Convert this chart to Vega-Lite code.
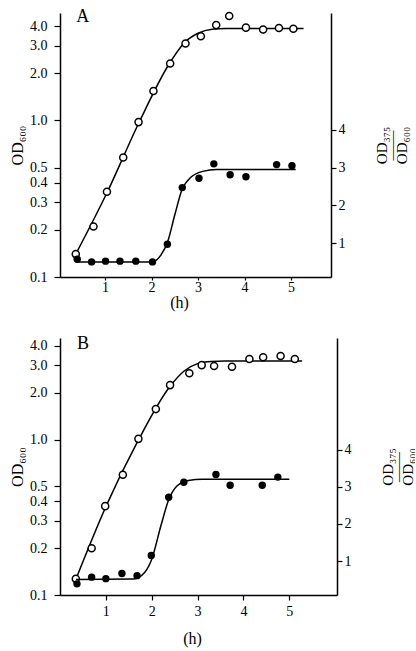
{
  "$schema": "https://vega.github.io/schema/vega-lite/v6.json",
  "background": "white",
  "padding": {"left": 9, "top": 8, "right": 0, "bottom": 5},
  "spacing": 25,
  "config": {
    "view": {"stroke": null},
    "font": "Liberation Serif",
    "axis": {
      "grid": false,
      "domainColor": "black",
      "tickColor": "black",
      "labelColor": "black",
      "titleColor": "black",
      "labelFont": "Liberation Serif",
      "titleFont": "Liberation Serif",
      "labelFontSize": 14,
      "titleFontSize": 16,
      "titleFontWeight": "normal",
      "domainWidth": 1.5,
      "tickWidth": 1.2
    }
  },
  "datasets": {
    "A_open": [
      {"h": 0.37, "v": 0.14}, {"h": 0.75, "v": 0.21}, {"h": 1.04, "v": 0.35}, {"h": 1.39, "v": 0.58},
      {"h": 1.72, "v": 0.975}, {"h": 2.04, "v": 1.54}, {"h": 2.40, "v": 2.31}, {"h": 2.73, "v": 3.10},
      {"h": 3.06, "v": 3.45}, {"h": 3.39, "v": 4.06}, {"h": 3.67, "v": 4.64}, {"h": 4.03, "v": 3.91},
      {"h": 4.40, "v": 3.81}, {"h": 4.74, "v": 3.89}, {"h": 5.05, "v": 3.85}
    ],
    "A_open_fit": [
      {"h": 0.37, "v": 0.14}, {"h": 1.04, "v": 0.345}, {"h": 1.72, "v": 0.955}, {"h": 2.4, "v": 2.35},
      {"h": 2.7, "v": 3.12}, {"h": 3.0, "v": 3.6}, {"h": 3.3, "v": 3.82}, {"h": 3.6, "v": 3.86}, {"h": 5.27, "v": 3.86}
    ],
    "A_filled": [
      {"h": 0.40, "v": 0.57}, {"h": 0.71, "v": 0.50}, {"h": 1.01, "v": 0.52}, {"h": 1.32, "v": 0.52},
      {"h": 1.66, "v": 0.52}, {"h": 2.02, "v": 0.50}, {"h": 2.34, "v": 0.97}, {"h": 2.66, "v": 2.47},
      {"h": 3.02, "v": 2.72}, {"h": 3.34, "v": 3.10}, {"h": 3.69, "v": 2.81}, {"h": 4.03, "v": 2.76},
      {"h": 4.69, "v": 3.08}, {"h": 5.02, "v": 3.05}
    ],
    "A_filled_fit": [
      {"h": 0.4, "v": 0.5}, {"h": 2.0, "v": 0.5}, {"h": 2.2, "v": 0.68}, {"h": 2.35, "v": 1.05},
      {"h": 2.5, "v": 1.75}, {"h": 2.65, "v": 2.4}, {"h": 2.85, "v": 2.75}, {"h": 3.1, "v": 2.9},
      {"h": 3.4, "v": 2.95}, {"h": 5.1, "v": 2.95}
    ],
    "A_label": [{"h": 0.38, "v": 4.55, "label": "A"}],
    "B_open": [
      {"h": 0.345, "v": 0.127}, {"h": 0.69, "v": 0.20}, {"h": 0.985, "v": 0.373}, {"h": 1.37, "v": 0.594},
      {"h": 1.71, "v": 1.01}, {"h": 2.09, "v": 1.57}, {"h": 2.40, "v": 2.24}, {"h": 2.82, "v": 2.67},
      {"h": 3.09, "v": 3.01}, {"h": 3.36, "v": 2.97}, {"h": 3.75, "v": 2.94}, {"h": 4.13, "v": 3.30},
      {"h": 4.43, "v": 3.38}, {"h": 4.81, "v": 3.45}, {"h": 5.12, "v": 3.30}
    ],
    "B_open_fit": [
      {"h": 0.35, "v": 0.127}, {"h": 1.0, "v": 0.37}, {"h": 1.7, "v": 0.98}, {"h": 2.4, "v": 2.2},
      {"h": 2.7, "v": 2.75}, {"h": 3.0, "v": 3.08}, {"h": 3.3, "v": 3.18}, {"h": 3.6, "v": 3.2}, {"h": 5.28, "v": 3.2}
    ],
    "B_filled": [
      {"h": 0.37, "v": 0.39}, {"h": 0.69, "v": 0.57}, {"h": 1.0, "v": 0.53}, {"h": 1.35, "v": 0.67},
      {"h": 1.68, "v": 0.61}, {"h": 1.99, "v": 1.15}, {"h": 2.37, "v": 2.72}, {"h": 2.70, "v": 3.12},
      {"h": 3.40, "v": 3.33}, {"h": 3.71, "v": 3.04}, {"h": 4.41, "v": 3.04}, {"h": 4.75, "v": 3.26}
    ],
    "B_filled_fit": [
      {"h": 0.35, "v": 0.51}, {"h": 1.6, "v": 0.52}, {"h": 1.85, "v": 0.7}, {"h": 2.0, "v": 1.05},
      {"h": 2.2, "v": 1.95}, {"h": 2.37, "v": 2.65}, {"h": 2.55, "v": 3.02}, {"h": 2.8, "v": 3.17},
      {"h": 3.1, "v": 3.2}, {"h": 5.0, "v": 3.2}
    ],
    "B_label": [{"h": 0.37, "v": 4.1, "label": "B"}]
  },
  "vconcat": [
    {
      "width": 271,
      "height": 264,
      "layer": [
        {
          "encoding": {
            "x": {"field": "h", "type": "quantitative", "scale": {"domain": [0.03, 5.86], "nice": false, "zero": false},
                  "axis": {"values": [1, 2, 3, 4, 5], "title": "(h)", "titleX": 119, "tickSize": 3, "labelPadding": 0, "titlePadding": 0}},
            "y": {"field": "v", "type": "quantitative", "scale": {"type": "log", "domain": [0.1, 4.85], "nice": false},
                  "axis": {"orient": "left", "values": [0.1, 0.2, 0.3, 0.4, 0.5, 1, 2, 3, 4], "format": ".1f", "title": "OD₆₀₀", "titlePadding": 4, "tickSize": 6, "labelPadding": 7}}
          },
          "layer": [
            {"data": {"name": "A_open_fit"}, "mark": {"type": "line", "color": "black", "strokeWidth": 1.5, "interpolate": "monotone"}},
            {"data": {"name": "A_open"}, "mark": {"type": "point", "shape": "circle", "filled": true, "fill": "white", "stroke": "black", "strokeWidth": 1.5, "size": 50, "opacity": 1}},
            {"data": {"name": "A_label"}, "mark": {"type": "text", "align": "left", "baseline": "middle", "fontSize": 18, "font": "Liberation Serif", "color": "black"}, "encoding": {"text": {"field": "label"}}}
          ]
        },
        {
          "encoding": {
            "x": {"field": "h", "type": "quantitative", "scale": {"domain": [0.03, 5.86], "nice": false, "zero": false},
                  "axis": {"values": [1, 2, 3, 4, 5], "title": "(h)", "titleX": 119, "tickSize": 3, "labelPadding": 0, "titlePadding": 0}},
            "y": {"field": "v", "type": "quantitative", "scale": {"domain": [0.1, 7.1], "nice": false, "zero": false},
                  "axis": {"orient": "right", "values": [1, 2, 3, 4], "format": "d", "title": ["OD₃₇₅", "——", "OD₆₀₀"], "titleAngle": 270, "titleLineHeight": 10, "titleFontSize": 15, "titlePadding": 24}}
          },
          "layer": [
            {"data": {"name": "A_filled_fit"}, "mark": {"type": "line", "color": "black", "strokeWidth": 1.5, "interpolate": "monotone"}},
            {"data": {"name": "A_filled"}, "mark": {"type": "point", "shape": "circle", "filled": true, "color": "black", "size": 55, "opacity": 1}}
          ]
        }
      ],
      "resolve": {"scale": {"y": "independent"}}
    },
    {
      "width": 277,
      "height": 257,
      "layer": [
        {
          "encoding": {
            "x": {"field": "h", "type": "quantitative", "scale": {"domain": [0, 6.04], "nice": false, "zero": false},
                  "axis": {"values": [1, 2, 3, 4, 5], "title": "(h)", "titleX": 132, "tickSize": 5, "labelPadding": 4, "titlePadding": 12}},
            "y": {"field": "v", "type": "quantitative", "scale": {"type": "log", "domain": [0.1, 4.5], "nice": false},
                  "axis": {"orient": "left", "values": [0.1, 0.2, 0.3, 0.4, 0.5, 1, 2, 3, 4], "format": ".1f", "title": "OD₆₀₀", "titlePadding": 4, "tickSize": 6, "labelPadding": 7}}
          },
          "layer": [
            {"data": {"name": "B_open_fit"}, "mark": {"type": "line", "color": "black", "strokeWidth": 1.5, "interpolate": "monotone"}},
            {"data": {"name": "B_open"}, "mark": {"type": "point", "shape": "circle", "filled": true, "fill": "white", "stroke": "black", "strokeWidth": 1.5, "size": 50, "opacity": 1}},
            {"data": {"name": "B_label"}, "mark": {"type": "text", "align": "left", "baseline": "middle", "fontSize": 18, "font": "Liberation Serif", "color": "black"}, "encoding": {"text": {"field": "label"}}}
          ]
        },
        {
          "encoding": {
            "x": {"field": "h", "type": "quantitative", "scale": {"domain": [0, 6.04], "nice": false, "zero": false},
                  "axis": {"values": [1, 2, 3, 4, 5], "title": "(h)", "titleX": 132, "tickSize": 5, "labelPadding": 4, "titlePadding": 12}},
            "y": {"field": "v", "type": "quantitative", "scale": {"domain": [0.09, 7.0], "nice": false, "zero": false},
                  "axis": {"orient": "right", "values": [1, 2, 3, 4], "format": "d", "title": ["OD₃₇₅", "——", "OD₆₀₀"], "titleAngle": 270, "titleLineHeight": 10, "titleFontSize": 15, "titlePadding": 24}}
          },
          "layer": [
            {"data": {"name": "B_filled_fit"}, "mark": {"type": "line", "color": "black", "strokeWidth": 1.5, "interpolate": "monotone"}},
            {"data": {"name": "B_filled"}, "mark": {"type": "point", "shape": "circle", "filled": true, "color": "black", "size": 55, "opacity": 1}}
          ]
        }
      ],
      "resolve": {"scale": {"y": "independent"}}
    }
  ]
}
